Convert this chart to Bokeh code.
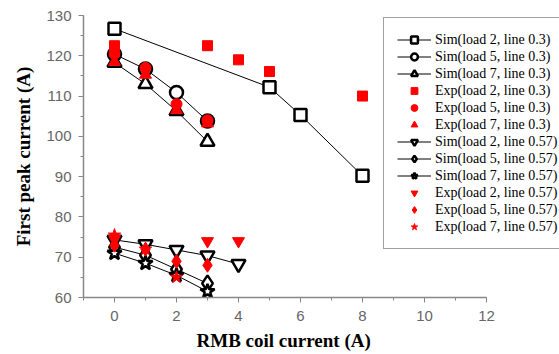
from bokeh.plotting import figure
from bokeh.models import Range1d, Legend, LegendItem, Title
from bokeh.embed import file_html
from bokeh.resources import INLINE

# Simulation series (line 0.3)
sim_l2_03_x = [0, 5, 6, 8]
sim_l2_03_y = [126.7, 112.2, 105.3, 90.2]
sim_l5_03_x = [0, 1, 2, 3]
sim_l5_03_y = [120.4, 116.7, 110.9, 103.8]
sim_l7_03_x = [0, 1, 2, 3]
sim_l7_03_y = [118.3, 113.0, 106.3, 98.7]
# Experiment series (line 0.3)
exp_l2_03_x = [0, 3, 4, 5, 8]
exp_l2_03_y = [122.5, 122.5, 119.0, 116.1, 110.0]
exp_l5_03_x = [0, 1, 2, 3]
exp_l5_03_y = [120.5, 117.0, 108.0, 104.0]
exp_l7_03_x = [0, 1, 2, 3]
exp_l7_03_y = [118.5, 115.3, 106.5, 103.2]
# Simulation series (line 0.57)
sim_l2_057_x = [0, 1, 2, 3, 4]
sim_l2_057_y = [74.3, 73.2, 71.8, 70.4, 68.3]
sim_l5_057_x = [0, 1, 2, 3]
sim_l5_057_y = [72.5, 70.5, 67.0, 63.5]
sim_l7_057_x = [0, 1, 2, 3]
sim_l7_057_y = [71.0, 68.5, 65.5, 61.5]
# Experiment series (line 0.57)
exp_l2_057_x = [0, 3, 4]
exp_l2_057_y = [74.5, 74.0, 74.0]
exp_l5_057_x = [0, 1, 2, 3]
exp_l5_057_y = [73.0, 72.0, 69.0, 68.0]
exp_l7_057_x = [0, 1, 2]
exp_l7_057_y = [75.5, 72.0, 65.0]

x_label = "RMB coil current (A)"
y_label = "First peak current (A)"

# axis drawn from -1 to 12; the frame extends further right so the legend can overhang
p = figure(width=559, height=354, output_backend="svg", toolbar_location=None,
           x_range=Range1d(-1, 12 + 73 / 31), y_range=Range1d(60, 130),
           min_border_left=83, min_border_right=0, min_border_top=15, min_border_bottom=57)
p.outline_line_color = None
p.xgrid.visible = False
p.ygrid.visible = False
p.background_fill_color = "white"
p.border_fill_color = "white"
p.xaxis[0].bounds = (-1, 12)

for ax in (p.xaxis[0], p.yaxis[0]):
    ax.axis_line_color = "#888888"
    ax.axis_line_width = 1.5
    ax.major_tick_line_color = "#888888"
    ax.minor_tick_line_color = "#888888"
    ax.major_tick_in = 0
    ax.major_tick_out = 5
    ax.minor_tick_in = 0
    ax.minor_tick_out = 3
    ax.major_label_text_font = "Liberation Sans"
    ax.major_label_text_font_size = "15px"
    ax.major_label_text_color = "#666666"
    ax.axis_label_text_font = "Liberation Serif"
    ax.axis_label_text_font_style = "bold"
    ax.axis_label_text_font_size = "19px"
    ax.axis_label_text_color = "black"

p.xaxis.ticker.desired_num_ticks = 8
p.xaxis[0].ticker.num_minor_ticks = 2
p.yaxis[0].ticker.num_minor_ticks = 2
p.yaxis.axis_label = y_label
p.xaxis.major_label_standoff = 8
p.yaxis.major_label_standoff = 7
p.yaxis.axis_label_standoff = 9

xt = Title(text=x_label, align="left", offset=113, text_font="Liberation Serif",
           text_font_style="bold", text_font_size="19px", text_color="black",
           standoff=8)
p.add_layout(xt, "below")

items = []

def sim(xs, ys, marker, label, size=13):
    l = p.line(xs, ys, line_color="black", line_width=1)
    s = p.scatter(xs, ys, marker=marker, size=size, line_color="black", line_width=2.5,
                  fill_color="white")
    items.append(LegendItem(label=label, renderers=[l, s]))

def exp(xs, ys, marker, label, size=11):
    s = p.scatter(xs, ys, marker=marker, size=size, line_color="red", fill_color="red", line_width=1)
    items.append(LegendItem(label=label, renderers=[s]))

sim(sim_l2_03_x, sim_l2_03_y, "square", "Sim(load 2, line 0.3)", 12)
sim(sim_l5_03_x, sim_l5_03_y, "circle", "Sim(load 5, line 0.3)")
sim(sim_l7_03_x, sim_l7_03_y, "triangle", "Sim(load 7, line 0.3)", 14)
exp(exp_l2_03_x, exp_l2_03_y, "square", "Exp(load 2, line 0.3)", 10)
exp(exp_l5_03_x, exp_l5_03_y, "circle", "Exp(load 5, line 0.3)")
exp(exp_l7_03_x, exp_l7_03_y, "triangle", "Exp(load 7, line 0.3)", 12)
sim(sim_l2_057_x, sim_l2_057_y, "inverted_triangle", "Sim(load 2, line 0.57)", 14)
sim(sim_l5_057_x, sim_l5_057_y, "diamond", "Sim(load 5, line 0.57)", 16)
sim(sim_l7_057_x, sim_l7_057_y, "star", "Sim(load 7, line 0.57)", 15)
exp(exp_l2_057_x, exp_l2_057_y, "inverted_triangle", "Exp(load 2, line 0.57)", 12)
exp(exp_l5_057_x, exp_l5_057_y, "diamond", "Exp(load 5, line 0.57)", 14)
exp(exp_l7_057_x, exp_l7_057_y, "star", "Exp(load 7, line 0.57)", 13)

legend = Legend(items=items, location=(300, 48))
legend.label_text_font = "Liberation Serif"
legend.label_text_font_size = "14px"
legend.label_text_color = "black"
legend.spacing = 0
legend.glyph_height = 17
legend.label_height = 17
legend.glyph_width = 34
legend.label_standoff = 4
legend.label_width = 135
legend.padding = 13
legend.margin = 0
legend.border_line_color = "#444444"
legend.border_line_width = 1
legend.background_fill_color = "white"
legend.background_fill_alpha = 1
p.add_layout(legend, "center")

open("out.html", "w").write(file_html(p, INLINE))
